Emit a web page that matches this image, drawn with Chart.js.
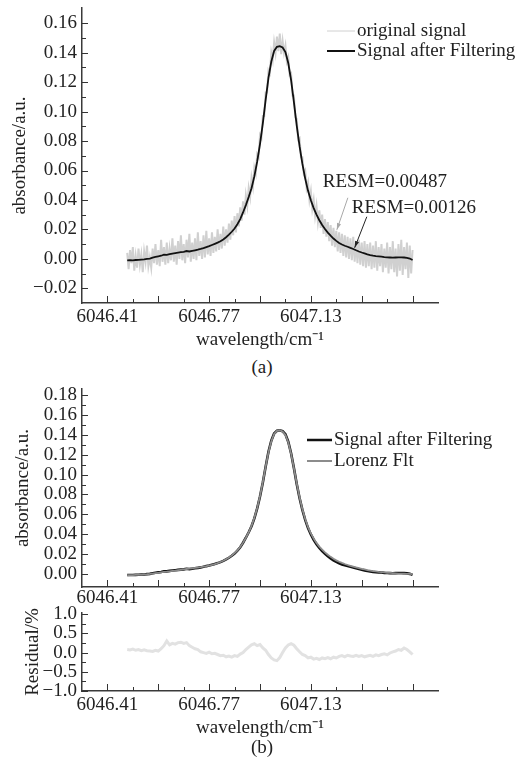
<!DOCTYPE html>
<html lang="en">
<head>
<meta charset="UTF-8">
<title>Absorbance line: filtering and Lorentz fit</title>
<style>
    body {
        margin: 0;
        background: #fff;
    }
    .page {
        position: relative;
        width: 524px;
        height: 766px;
        font-family: "Liberation Serif", "Times New Roman", serif;
        color: #222;
    }
    .page canvas {
        position: absolute;
        left: 0;
    }
    .cap {
        position: absolute;
        width: 524px;
        left: 0;
        text-align: center;
        font-size: 19px;
        line-height: 22px;
    }
</style>
</head>
<body>
<div class="page">
    <canvas id="chartA" width="524" height="351" style="top:0px"></canvas>
    <div class="cap" style="top:356px">(a)</div>
    <canvas id="chartB" width="524" height="232" style="top:380px"></canvas>
    <canvas id="chartC" width="524" height="160" style="top:606px"></canvas>
    <div class="cap" style="top:736px">(b)</div>
</div>

<script src="https://cdn.jsdelivr.net/npm/chart.js"></script>
<script>
// wavenumber grid of the filtered signal / fit / residual (cm-1)
const waveGrid = [
    6046.48,6046.49,6046.50,6046.51,6046.52,6046.53,6046.54,6046.55,6046.56,6046.57,
    6046.58,6046.59,6046.60,6046.61,6046.62,6046.63,6046.64,6046.65,6046.66,6046.67,
    6046.68,6046.69,6046.70,6046.71,6046.72,6046.73,6046.74,6046.75,6046.76,6046.77,
    6046.78,6046.79,6046.80,6046.81,6046.82,6046.83,6046.84,6046.85,6046.86,6046.87,
    6046.88,6046.89,6046.90,6046.91,6046.92,6046.93,6046.94,6046.95,6046.96,6046.97,
    6046.98,6046.99,6047.00,6047.01,6047.02,6047.03,6047.04,6047.05,6047.06,6047.07,
    6047.08,6047.09,6047.10,6047.11,6047.12,6047.13,6047.14,6047.15,6047.16,6047.17,
    6047.18,6047.19,6047.20,6047.21,6047.22,6047.23,6047.24,6047.25,6047.26,6047.27,
    6047.28,6047.29,6047.30,6047.31,6047.32,6047.33,6047.34,6047.35,6047.36,6047.37,
    6047.38,6047.39,6047.40,6047.41,6047.42,6047.43,6047.44,6047.45,6047.46,6047.47,
    6047.48,6047.49
];

// signal after filtering (absorbance)
const filtered = [
    -0.0010,-0.0009,-0.0010,-0.0008,-0.0007,-0.0005,-0.0004,-0.0001,0.0002,0.0008,
    0.0013,0.0017,0.0021,0.0028,0.0027,0.0032,0.0036,0.0039,0.0042,0.0045,
    0.0047,0.0053,0.0050,0.0054,0.0058,0.0062,0.0067,0.0073,0.0080,0.0086,
    0.0094,0.0102,0.0110,0.0120,0.0132,0.0147,0.0164,0.0184,0.0206,0.0235,
    0.0270,0.0315,0.0365,0.0420,0.0480,0.0560,0.0660,0.0780,0.0920,0.1080,
    0.1230,0.1340,0.1412,0.1440,0.1445,0.1436,0.1405,0.1330,0.1215,0.1065,
    0.0905,0.0765,0.0645,0.0545,0.0462,0.0398,0.0345,0.0300,0.0262,0.0230,
    0.0203,0.0178,0.0157,0.0138,0.0122,0.0108,0.0097,0.0089,0.0082,0.0074,
    0.0067,0.0058,0.0050,0.0043,0.0037,0.0031,0.0026,0.0022,0.0019,0.0017,
    0.0015,0.0012,0.0010,0.0009,0.0008,0.0009,0.0010,0.0010,0.0009,0.0007,
    0.0002,-0.0008
];

// Lorentz fit (absorbance)
const lorentzFit = [
    -0.0012,-0.0011,-0.0010,-0.0009,-0.0008,-0.0006,-0.0004,-0.0002,0.0001,0.0005,
    0.0009,0.0013,0.0017,0.0021,0.0024,0.0028,0.0032,0.0035,0.0039,0.0043,
    0.0047,0.0051,0.0054,0.0058,0.0062,0.0066,0.0070,0.0075,0.0080,0.0086,
    0.0093,0.0101,0.0110,0.0121,0.0134,0.0149,0.0166,0.0186,0.0210,0.0238,
    0.0273,0.0316,0.0365,0.0420,0.0485,0.0565,0.0665,0.0785,0.0925,0.1080,
    0.1225,0.1335,0.1408,0.1440,0.1445,0.1432,0.1398,0.1325,0.1210,0.1065,
    0.0910,0.0772,0.0652,0.0553,0.0472,0.0408,0.0356,0.0313,0.0276,0.0245,
    0.0218,0.0194,0.0173,0.0154,0.0138,0.0124,0.0112,0.0101,0.0091,0.0082,
    0.0074,0.0066,0.0059,0.0052,0.0046,0.0040,0.0035,0.0030,0.0026,0.0022,
    0.0019,0.0016,0.0013,0.0011,0.0009,0.0007,0.0005,0.0004,0.0003,0.0002,
    0.0001,0.0000
];

// fit residual (%)
const residual = [
    0.08,0.07,0.09,0.06,0.08,0.05,0.07,0.05,0.04,0.03,
    0.06,0.04,0.10,0.18,0.30,0.20,0.24,0.22,0.26,0.27,
    0.24,0.26,0.18,0.14,0.10,0.08,0.02,0.00,-0.02,0.01,
    -0.03,-0.02,-0.05,-0.08,-0.07,-0.11,-0.09,-0.12,-0.08,-0.10,
    -0.04,0.00,0.08,0.14,0.20,0.23,0.18,0.21,0.12,0.06,
    -0.05,-0.14,-0.19,-0.21,-0.13,0.00,0.12,0.20,0.23,0.19,
    0.10,0.02,-0.05,-0.08,-0.14,-0.12,-0.17,-0.15,-0.18,-0.14,
    -0.16,-0.13,-0.16,-0.12,-0.14,-0.10,-0.08,-0.11,-0.07,-0.09,
    -0.10,-0.07,-0.10,-0.08,-0.11,-0.09,-0.07,-0.10,-0.06,-0.08,
    -0.05,-0.03,-0.06,-0.01,0.02,0.04,0.08,0.06,0.12,0.08,
    0.02,-0.05
];

// raw (unfiltered) samples, finer grid
const waveFine = [
    6046.480,6046.485,6046.490,6046.495,6046.500,6046.505,6046.510,6046.515,6046.520,6046.525,
    6046.530,6046.535,6046.540,6046.545,6046.550,6046.555,6046.560,6046.565,6046.570,6046.575,
    6046.580,6046.585,6046.590,6046.595,6046.600,6046.605,6046.610,6046.615,6046.620,6046.625,
    6046.630,6046.635,6046.640,6046.645,6046.650,6046.655,6046.660,6046.665,6046.670,6046.675,
    6046.680,6046.685,6046.690,6046.695,6046.700,6046.705,6046.710,6046.715,6046.720,6046.725,
    6046.730,6046.735,6046.740,6046.745,6046.750,6046.755,6046.760,6046.765,6046.770,6046.775,
    6046.780,6046.785,6046.790,6046.795,6046.800,6046.805,6046.810,6046.815,6046.820,6046.825,
    6046.830,6046.835,6046.840,6046.845,6046.850,6046.855,6046.860,6046.865,6046.870,6046.875,
    6046.880,6046.885,6046.890,6046.895,6046.900,6046.905,6046.910,6046.915,6046.920,6046.925,
    6046.930,6046.935,6046.940,6046.945,6046.950,6046.955,6046.960,6046.965,6046.970,6046.975,
    6046.980,6046.985,6046.990,6046.995,6047.000,6047.005,6047.010,6047.015,6047.020,6047.025,
    6047.030,6047.035,6047.040,6047.045,6047.050,6047.055,6047.060,6047.065,6047.070,6047.075,
    6047.080,6047.085,6047.090,6047.095,6047.100,6047.105,6047.110,6047.115,6047.120,6047.125,
    6047.130,6047.135,6047.140,6047.145,6047.150,6047.155,6047.160,6047.165,6047.170,6047.175,
    6047.180,6047.185,6047.190,6047.195,6047.200,6047.205,6047.210,6047.215,6047.220,6047.225,
    6047.230,6047.235,6047.240,6047.245,6047.250,6047.255,6047.260,6047.265,6047.270,6047.275,
    6047.280,6047.285,6047.290,6047.295,6047.300,6047.305,6047.310,6047.315,6047.320,6047.325,
    6047.330,6047.335,6047.340,6047.345,6047.350,6047.355,6047.360,6047.365,6047.370,6047.375,
    6047.380,6047.385,6047.390,6047.395,6047.400,6047.405,6047.410,6047.415,6047.420,6047.425,
    6047.430,6047.435,6047.440,6047.445,6047.450,6047.455,6047.460,6047.465,6047.470,6047.475,
    6047.480,6047.485,6047.490
];
const originalSignal = [
    0.004,-0.007,0.006,-0.003,0.008,-0.008,0.002,-0.006,0.007,-0.004,
    0.003,-0.009,0.005,-0.002,0.009,-0.005,0.001,-0.006,0.007,-0.003,
    0.010,-0.004,0.006,-0.005,0.013,-0.002,0.008,-0.004,0.011,-0.003,
    0.007,-0.001,0.014,-0.002,0.009,-0.004,0.012,0.000,0.016,-0.001,
    0.010,-0.003,0.013,0.001,0.017,-0.002,0.011,0.000,0.014,-0.001,
    0.018,0.002,0.012,0.000,0.016,0.001,0.019,0.003,0.014,0.002,
    0.018,0.004,0.015,0.005,0.020,0.006,0.017,0.007,0.022,0.009,
    0.020,0.011,0.024,0.013,0.026,0.016,0.029,0.018,0.031,0.022,
    0.035,0.026,0.039,0.030,0.043,0.036,0.048,0.042,0.055,0.049,
    0.062,0.058,0.071,0.069,0.084,0.082,0.097,0.097,0.113,0.113,
    0.128,0.126,0.140,0.135,0.147,0.140,0.151,0.141,0.153,0.139,
    0.148,0.140,0.145,0.134,0.137,0.125,0.126,0.111,0.111,0.096,
    0.095,0.081,0.082,0.069,0.069,0.058,0.060,0.048,0.052,0.040,
    0.046,0.034,0.040,0.029,0.036,0.025,0.033,0.021,0.030,0.017,
    0.027,0.015,0.025,0.012,0.023,0.009,0.021,0.008,0.019,0.005,
    0.018,0.004,0.017,0.002,0.016,0.001,0.015,0.000,0.014,-0.001,
    0.015,-0.002,0.012,-0.003,0.013,-0.004,0.011,-0.005,0.012,-0.006,
    0.010,-0.005,0.011,-0.007,0.009,-0.006,0.012,-0.008,0.008,-0.005,
    0.010,-0.009,0.007,-0.006,0.011,-0.010,0.008,-0.007,0.012,-0.009,
    0.007,-0.012,0.010,-0.008,0.013,-0.011,0.008,-0.007,0.011,-0.013,
    0.009,-0.010,0.006
];

// axis ticks
const xLabelTicks = [6046.41, 6046.77, 6047.13];
const xMajorTicks = [6046.41, 6046.59, 6046.77, 6046.95, 6047.13, 6047.31, 6047.49];
const xMinorTicks = [6046.50, 6046.68, 6046.86, 6047.04, 6047.22, 6047.40];
const yTicksA = [-0.02, 0.00, 0.02, 0.04, 0.06, 0.08, 0.10, 0.12, 0.14, 0.16];
const yMinorA = [-0.01, 0.01, 0.03, 0.05, 0.07, 0.09, 0.11, 0.13, 0.15];
const yTicksB = [0.00, 0.02, 0.04, 0.06, 0.08, 0.10, 0.12, 0.14, 0.16, 0.18];
const yMinorB = [0.01, 0.03, 0.05, 0.07, 0.09, 0.11, 0.13, 0.15, 0.17];
const yTicksRes = [-1.0, -0.5, 0.0, 0.5, 1.0];
const yMinorRes = [-0.75, -0.25, 0.25, 0.75];

// RESM notes on panel (a): [wavenumber, absorbance] anchors
const resmNotes = [
    { text: 'RESM=0.00487', at: [6047.172, 0.0524] },
    { text: 'RESM=0.00126', at: [6047.275, 0.0347] }
];
const resmArrows = [
    { from: [6047.261, 0.0415], to: [6047.222, 0.0197], color: '#a8a8a8' },
    { from: [6047.328, 0.0286], to: [6047.285, 0.0075], color: '#222' }
];

const serif = "'Liberation Serif', 'Times New Roman', serif";
Chart.defaults.font.family = serif;
Chart.defaults.font.size = 19;
Chart.defaults.color = '#222';

const pairs = (xs, ys) => xs.map((x, i) => ({ x: x, y: ys[i] }));
const minus = (s) => s.replace('-', '\u2212');

// inward major/minor tick marks (closure keeps the tick lists)
function tickMarks(xMajor, xMinor, yMajor, yMinor) {
    return {
        id: 'tickMarks',
        afterDraw(chart) {
            const ctx = chart.ctx;
            const area = chart.chartArea;
            const sx = chart.scales.x, sy = chart.scales.y;
            ctx.save();
            ctx.strokeStyle = '#333';
            ctx.lineWidth = 1;
            xMajor.concat(xMinor).forEach((v, i) => {
                const len = i < xMajor.length ? 7 : 4;
                const px = Math.round(sx.getPixelForValue(v)) + 0.5;
                ctx.beginPath();
                ctx.moveTo(px, area.bottom);
                ctx.lineTo(px, area.bottom - len);
                ctx.stroke();
            });
            yMajor.concat(yMinor).forEach((v, i) => {
                const len = i < yMajor.length ? 6 : 4;
                const py = Math.round(sy.getPixelForValue(v)) + 0.5;
                ctx.beginPath();
                ctx.moveTo(area.left, py);
                ctx.lineTo(area.left + len, py);
                ctx.stroke();
            });
            ctx.restore();
        }
    };
}

// simple line-sample legend
function lineLegend(order, left, top, gap, sample, widths) {
    return {
        id: 'lineLegend',
        afterDraw(chart) {
            const ctx = chart.ctx;
            ctx.save();
            ctx.font = '19px ' + serif;
            ctx.textBaseline = 'middle';
            ctx.fillStyle = '#222';
            order.forEach((idx, k) => {
                const ds = chart.data.datasets[idx];
                const y = top + k * gap;
                ctx.strokeStyle = ds.borderColor;
                ctx.lineWidth = widths[k];
                ctx.beginPath();
                ctx.moveTo(left, y);
                ctx.lineTo(left + sample, y);
                ctx.stroke();
                ctx.fillText(ds.label, left + sample + 2, y);
            });
            ctx.restore();
        }
    };
}

// RESM text and arrows
const resmPlugin = {
    id: 'resm',
    afterDraw(chart) {
        const { ctx, scales: { x, y } } = chart;
        ctx.save();
        ctx.font = '19px ' + serif;
        ctx.textBaseline = 'middle';
        ctx.fillStyle = '#222';
        resmNotes.forEach(n => ctx.fillText(n.text, x.getPixelForValue(n.at[0]), y.getPixelForValue(n.at[1])));
        resmArrows.forEach(a => {
            const x0 = x.getPixelForValue(a.from[0]), y0 = y.getPixelForValue(a.from[1]);
            const x1 = x.getPixelForValue(a.to[0]), y1 = y.getPixelForValue(a.to[1]);
            const ang = Math.atan2(y1 - y0, x1 - x0);
            ctx.strokeStyle = a.color;
            ctx.fillStyle = a.color;
            ctx.lineWidth = 1;
            ctx.beginPath();
            ctx.moveTo(x0, y0);
            ctx.lineTo(x1, y1);
            ctx.stroke();
            ctx.beginPath();
            ctx.moveTo(x1, y1);
            ctx.lineTo(x1 - 7 * Math.cos(ang - 0.3), y1 - 7 * Math.sin(ang - 0.3));
            ctx.lineTo(x1 - 7 * Math.cos(ang + 0.3), y1 - 7 * Math.sin(ang + 0.3));
            ctx.closePath();
            ctx.fill();
        });
        ctx.restore();
    }
};

function xAxis(showTitle, height, labelPad) {
    return {
        type: 'linear',
        min: 6046.32,
        max: 6047.58,
        grid: { display: false, drawTicks: false },
        border: { color: '#3a3a3a', width: 1.5 },
        afterBuildTicks: s => { s.ticks = xLabelTicks.map(v => ({ value: v })); },
        ticks: { padding: labelPad, maxRotation: 0, autoSkip: false, color: '#222', callback: v => Number(v).toFixed(2) },
        title: { display: showTitle, text: 'wavelength/cm\u207B\u00B9', padding: 0, color: '#222' },
        afterFit: s => { s.height = height; s.paddingLeft = 0; s.paddingRight = 0; }
    };
}

function yAxis(min, max, ticks, digits, title, titlePad) {
    return {
        min: min,
        max: max,
        grid: { display: false, drawTicks: false },
        border: { color: '#3a3a3a', width: 1.5 },
        afterBuildTicks: s => { s.ticks = ticks.map(v => ({ value: v })); },
        ticks: { padding: 5, autoSkip: false, color: '#222', callback: v => minus(Number(v).toFixed(digits)) },
        title: { display: true, text: title, padding: { top: titlePad, bottom: 0 }, color: '#222' },
        afterFit: s => { s.width = 82; s.paddingTop = 0; s.paddingBottom = 0; }
    };
}

const baseOptions = {
    responsive: false,
    animation: false,
    events: []
};

// panel (a)
new Chart(document.getElementById('chartA'), {
    type: 'line',
    data: {
        datasets: [
            { label: 'Signal after Filtering', data: pairs(waveGrid, filtered), borderColor: '#111', borderWidth: 1.8, pointRadius: 0 },
            { label: 'original signal', data: pairs(waveFine, originalSignal), borderColor: '#d0d0d0', borderWidth: 2, pointRadius: 0 }
        ]
    },
    options: {
        ...baseOptions,
        layout: { padding: { left: 0, right: 86, top: 8, bottom: 0 } },
        plugins: { legend: { display: false }, tooltip: { enabled: false } },
        scales: {
            x: xAxis(true, 48, 3),
            y: yAxis(-0.030, 0.1704, yTicksA, 2, 'absorbance/a.u.', 9)
        }
    },
    plugins: [
        tickMarks(xMajorTicks, xMinorTicks, yTicksA, yMinorA),
        lineLegend([1, 0], 327, 31, 20, 28, [1, 2]),
        resmPlugin
    ]
});

// panel (b), top: filtered signal vs Lorentz fit
new Chart(document.getElementById('chartB'), {
    type: 'line',
    data: {
        datasets: [
            { label: 'Lorenz Flt', data: pairs(waveGrid, lorentzFit), borderColor: '#8c8c8c', borderWidth: 1.8, pointRadius: 0 },
            { label: 'Signal after Filtering', data: pairs(waveGrid, filtered), borderColor: '#111', borderWidth: 2.6, pointRadius: 0 }
        ]
    },
    options: {
        ...baseOptions,
        layout: { padding: { left: 0, right: 86, top: 9, bottom: 0 } },
        plugins: { legend: { display: false }, tooltip: { enabled: false } },
        scales: {
            x: xAxis(false, 25, 0),
            y: yAxis(-0.013, 0.186, yTicksB, 2, 'absorbance/a.u.', 12)
        }
    },
    plugins: [
        tickMarks(xMajorTicks, xMinorTicks, yTicksB, yMinorB),
        lineLegend([1, 0], 307, 60, 21, 25, [2.5, 2])
    ]
});

// panel (b), bottom: residual
new Chart(document.getElementById('chartC'), {
    type: 'line',
    data: {
        datasets: [
            { label: 'Residual', data: pairs(waveGrid, residual), borderColor: '#e2e2e2', borderWidth: 3, pointRadius: 0 }
        ]
    },
    options: {
        ...baseOptions,
        layout: { padding: { left: 0, right: 86, top: 7, bottom: 27 } },
        plugins: { legend: { display: false }, tooltip: { enabled: false } },
        scales: {
            x: xAxis(true, 48, 3),
            y: yAxis(-1.0, 1.03, yTicksRes, 1, 'Residual/%', 22)
        }
    },
    plugins: [tickMarks(xMajorTicks, xMinorTicks, yTicksRes, yMinorRes)]
});
</script>
</body>
</html>
